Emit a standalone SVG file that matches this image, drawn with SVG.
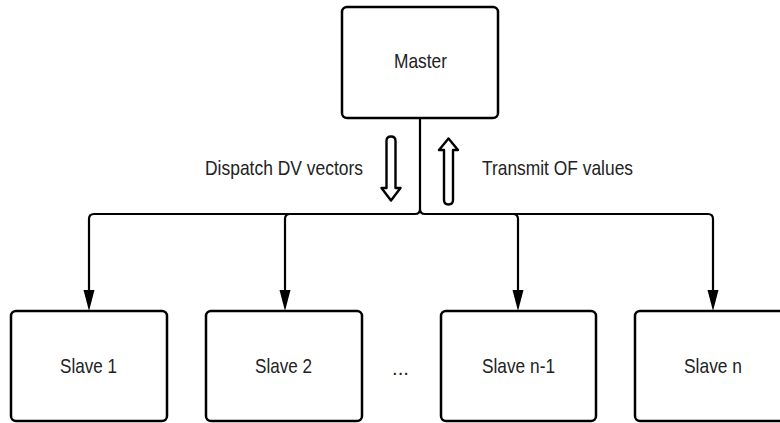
<svg xmlns="http://www.w3.org/2000/svg" width="780" height="423" viewBox="0 0 780 423">
  <style>
    .box { fill: #fff; stroke: #000; stroke-width: 2.5; }
    .lbl { font-family: "Liberation Sans", Arial, sans-serif; font-size: 21px; fill: #222; }
    .mid { text-anchor: middle; }
    .conn { fill: none; stroke: #000; stroke-width: 2.2; }
    .hollow { fill: #fff; stroke: #000; stroke-width: 2.4; stroke-linejoin: round; }
  </style>
  <rect width="780" height="423" fill="#fff"/>

  <g id="connectors">
    <path class="conn" d="M420,118 V209 Q420,214 415,214 H94 Q89,214 89,219 V290"/>
    <path class="conn" d="M420,209 Q420,214 425,214 H708 Q713,214 713,219 V290"/>
    <path class="conn" d="M290,214 Q285,214 285,219 V290"/>
    <path class="conn" d="M513,214 Q518,214 518,219 V290"/>
    <path d="M83.5,290 L94.5,290 L89,311 Z" fill="#000"/>
    <path d="M279.5,290 L290.5,290 L285,311 Z" fill="#000"/>
    <path d="M512.5,290 L523.5,290 L518,311 Z" fill="#000"/>
    <path d="M707.5,290 L718.5,290 L713,311 Z" fill="#000"/>
  </g>

  <g id="dispatch-arrow">
    <path class="hollow" d="M386.5,141 Q386.5,136.5 391,136.5 Q395.5,136.5 395.5,141 V188 H400.5 L391,200.5 L381.5,188 H386.5 Z"/>
  </g>
  <g id="transmit-arrow">
    <path class="hollow" d="M444,200 Q444,204.5 448.5,204.5 Q453,204.5 453,200 V150 H458 L448.5,138.5 L439,150 H444 Z"/>
  </g>

  <g id="labels">
    <text class="lbl" x="205" y="175" textLength="158" lengthAdjust="spacingAndGlyphs">Dispatch DV vectors</text>
    <text class="lbl" x="482" y="175" textLength="151" lengthAdjust="spacingAndGlyphs">Transmit OF values</text>
  </g>

  <g id="master">
    <rect class="box" x="342" y="7" width="156" height="111" rx="5"/>
    <text class="lbl" x="394" y="68" textLength="53" lengthAdjust="spacingAndGlyphs">Master</text>
  </g>
  <g id="slave1">
    <rect class="box" x="11" y="311" width="156" height="110" rx="5"/>
    <text class="lbl" x="60" y="373" textLength="57" lengthAdjust="spacingAndGlyphs">Slave 1</text>
  </g>
  <g id="slave2">
    <rect class="box" x="206" y="311" width="156" height="110" rx="5"/>
    <text class="lbl" x="255" y="373" textLength="57" lengthAdjust="spacingAndGlyphs">Slave 2</text>
  </g>
  <g id="ellipsis">
    <text class="lbl" x="392" y="375" textLength="17" lengthAdjust="spacingAndGlyphs">...</text>
  </g>
  <g id="slave-n-1">
    <rect class="box" x="441" y="311" width="155" height="110" rx="5"/>
    <text class="lbl" x="482" y="373" textLength="73" lengthAdjust="spacingAndGlyphs">Slave n-1</text>
  </g>
  <g id="slave-n">
    <rect class="box" x="635" y="311" width="156" height="110" rx="5"/>
    <text class="lbl" x="684" y="373" textLength="58" lengthAdjust="spacingAndGlyphs">Slave n</text>
  </g>
</svg>
